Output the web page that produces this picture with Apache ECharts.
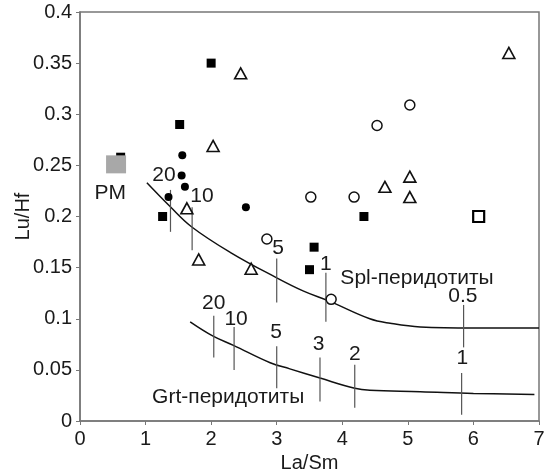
<!DOCTYPE html>
<html>
<head>
<meta charset="utf-8">
<script src="https://cdn.jsdelivr.net/npm/echarts@6/dist/echarts.min.js"></script>
<style>html,body{margin:0;padding:0;background:#fff}#c{width:549px;height:475px}</style>
</head>
<body>
<div id="c"></div>
<script>
// ---- data (La/Sm, Lu/Hf) ----
var filledSquares = [[2.0,0.350],[1.52,0.290],[1.26,0.200],[4.33,0.200],[3.57,0.170],[3.50,0.148],[0.62,0.258]];
var filledCircles = [[1.56,0.260],[1.55,0.240],[1.60,0.229],[1.35,0.219],[2.53,0.209]];
var openTriangles = [[2.45,0.340],[2.03,0.269],[1.63,0.208],[1.81,0.158],[2.61,0.149],[6.54,0.360],[4.65,0.229],[5.03,0.239],[5.03,0.219]];
var openCircles = [[5.03,0.309],[4.53,0.289],[3.52,0.219],[4.18,0.219],[2.85,0.178],[3.83,0.119]];
var openSquares = [[6.08,0.200]];
var pmPoint = [[0.55,0.251]];
var splCurve = [[1.02,0.233],[1.37,0.210],[1.70,0.190],[2.29,0.165],[3.0,0.140],[3.41,0.127],[3.81,0.117],[4.42,0.100],[4.73,0.0956],[5.19,0.092],[6.0,0.091],[7.0,0.091]];
var grtCurve = [[1.68,0.097],[2.03,0.083],[2.34,0.074],[2.90,0.057],[3.20,0.051],[3.66,0.042],[4.19,0.032],[4.42,0.030],[5.19,0.0287],[6.0,0.027],[6.93,0.026]];
// melting-degree ticks: [x, yLow, yHigh]
var splTicks = [[1.38,0.185,0.226],[1.71,0.167,0.209],[3.0,0.116,0.159],[3.75,0.097,0.145],[5.85,0.072,0.1135]];
var grtTicks = [[2.04,0.062,0.103],[2.35,0.050,0.092],[3.0,0.032,0.073],[3.66,0.019,0.062],[4.19,0.013,0.055],[5.82,0.006,0.047]];
// tick labels on curves: [text, x, y]
var curveLabels = [['20',1.28,0.240],['10',1.86,0.220],['5',3.02,0.169],['1',3.75,0.153],['0.5',5.84,0.122],
                   ['20',2.04,0.115],['10',2.38,0.100],['5',2.99,0.087],['3',3.64,0.075],['2',4.19,0.0656],['1',5.83,0.061]];
var regionLabels = [['Spl-перидотиты',5.14,0.140],['Grt-перидотиты',2.26,0.0235],['PM',0.46,0.223]];
var xTicks = {min:0,max:7,interval:1};
var yTicks = {min:0,max:0.4,interval:0.05};

var FONT = '"Liberation Sans", Arial, sans-serif';
var TXT = '#1a1a1a';
var AX = '#777';

function tickSeries(arr){
  return {
    type:'custom', silent:true, z:3,
    data: arr,
    renderItem: function(params, api){
      var p1 = api.coord([api.value(0), api.value(1)]);
      var p2 = api.coord([api.value(0), api.value(2)]);
      return {type:'line', shape:{x1:p1[0],y1:p1[1],x2:p2[0],y2:p2[1]}, style:{stroke:'#555', lineWidth:1.2}};
    },
    encode:{x:0, y:[1,2]}
  };
}
function labelSeries(arr, size){
  return {
    type:'scatter', silent:true, z:5,
    symbol:'circle', symbolSize:1, itemStyle:{color:'rgba(0,0,0,0)', opacity:1},
    data: arr.map(function(d){ return {name:d[0], value:[d[1], d[2]]}; }),
    label:{show:true, position:'inside', formatter:function(p){return p.name;},
           color:TXT, opacity:1, fontSize:size, fontFamily:FONT}
  };
}
function pts(data, symbol, size, style){
  style.opacity = 1;
  return {type:'scatter', data:data, symbol:symbol, symbolSize:size, itemStyle:style, z:4, silent:true};
}

var chart = echarts.init(document.getElementById('c'), null, {renderer:'canvas'});
chart.setOption({
  animation:false,
  backgroundColor:'#fff',
  grid:{left:80, right:10, top:12, bottom:54, outerBoundsMode:'none', containLabel:false,
        show:true, borderColor:AX, borderWidth:1.5, backgroundColor:'transparent'},
  xAxis:{type:'value', min:xTicks.min, max:xTicks.max, interval:xTicks.interval,
    name:'La/Sm', nameLocation:'middle', nameGap:32, nameMoveOverlap:false,
    nameTextStyle:{color:TXT, fontSize:20, fontFamily:FONT},
    axisLine:{show:true, lineStyle:{color:AX, width:1.5}},
    axisTick:{show:true, length:4, lineStyle:{color:AX}},
    axisLabel:{color:TXT, fontSize:20, fontFamily:FONT, margin:8},
    splitLine:{show:false}},
  yAxis:{type:'value', min:yTicks.min, max:yTicks.max, interval:yTicks.interval,
    name:'Lu/Hf', nameLocation:'middle', nameGap:47, nameMoveOverlap:false,
    nameTextStyle:{color:TXT, fontSize:20, fontFamily:FONT},
    axisLine:{show:true, lineStyle:{color:AX, width:1.5}},
    axisTick:{show:true, length:4, lineStyle:{color:AX}},
    axisLabel:{color:TXT, fontSize:20, fontFamily:FONT, margin:8},
    splitLine:{show:false}},
  series:[
    {type:'line', data:splCurve, smooth:0.4, symbol:'none', lineStyle:{color:'#111', width:1.5}, z:2, silent:true},
    {type:'line', data:grtCurve, smooth:0.4, symbol:'none', lineStyle:{color:'#111', width:1.5}, z:2, silent:true},
    tickSeries(splTicks),
    tickSeries(grtTicks),
    pts(filledSquares, 'rect', 9, {color:'#000'}),
    pts(pmPoint, 'rect', [20,18], {color:'#a8a8a8'}),
    pts(filledCircles, 'circle', 8, {color:'#000'}),
    pts(openTriangles, 'triangle', [12,11], {color:'#fff', borderColor:'#111', borderWidth:1.6}),
    pts(openCircles, 'circle', 10, {color:'#fff', borderColor:'#111', borderWidth:1.5}),
    pts(openSquares, 'rect', 11, {color:'#fff', borderColor:'#000', borderWidth:2.2}),
    labelSeries(curveLabels, 21),
    labelSeries(regionLabels, 21)
  ]
});
</script>
</body>
</html>
